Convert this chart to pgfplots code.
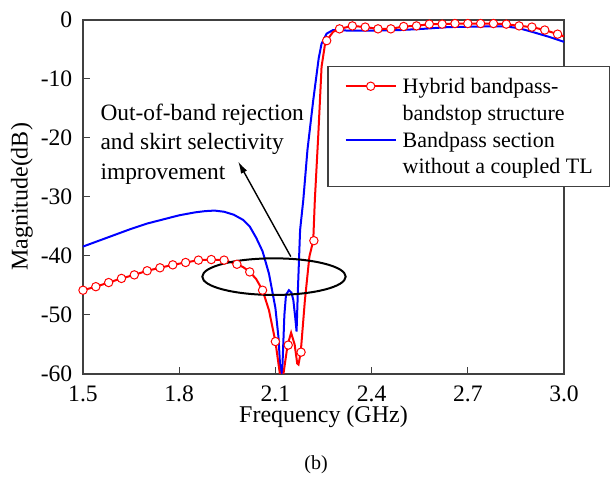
\documentclass[border=0pt]{standalone}
\usepackage{fontspec}
\setmainfont{Liberation Serif}
\usepackage{pgfplots}
\usepackage{pgfplotstable}
\pgfplotsset{compat=1.18}
\usetikzlibrary{arrows.meta,calc}

% hybrid bandpass-bandstop, solid line (dense near the dips)
\pgfplotstableread{
f     s
1.50  -45.8
1.54  -45.2
1.58  -44.5
1.62  -43.8
1.66  -43.2
1.70  -42.5
1.74  -42.0
1.78  -41.5
1.82  -41.1
1.86  -40.7
1.90  -40.6
1.94  -40.7
1.98  -41.4
2.00  -41.9
2.02  -42.7
2.04  -43.9
2.06  -45.8
2.08  -49.2
2.10  -54.5
2.114 -60.0
2.120 -64.0
2.125 -60.0
2.138 -55.1
2.149 -53.0
2.160 -55.0
2.168 -58.2
2.172 -58.4
2.179 -56.3
2.192 -47.5
2.206 -40.1
2.218 -37.4
2.223 -30.5
2.234 -19.2
2.244 -7.9
2.255 -4.0
2.26  -3.5
2.28  -2.0
2.30  -1.5
2.34  -1.0
2.38  -1.2
2.42  -1.5
2.46  -1.5
2.50  -1.1
2.54  -1.0
2.58  -0.7
2.62  -0.7
2.66  -0.6
2.70  -0.6
2.74  -0.6
2.78  -0.6
2.82  -0.7
2.86  -1.0
2.90  -1.2
2.94  -1.7
2.98  -2.4
3.00  -2.8
}\hybridline

% hybrid, marker positions
\pgfplotstableread{
f     s
1.50  -45.8
1.54  -45.2
1.58  -44.5
1.62  -43.8
1.66  -43.2
1.70  -42.5
1.74  -42.0
1.78  -41.5
1.82  -41.1
1.86  -40.7
1.90  -40.6
1.94  -40.7
1.98  -41.4
2.02  -42.7
2.06  -45.8
2.10  -54.5
2.14  -55.1
2.18  -56.3
2.22  -37.4
2.26  -3.5
2.30  -1.5
2.34  -1.0
2.38  -1.2
2.42  -1.5
2.46  -1.5
2.50  -1.1
2.54  -1.0
2.58  -0.7
2.62  -0.7
2.66  -0.6
2.70  -0.6
2.74  -0.6
2.78  -0.6
2.82  -0.7
2.86  -1.0
2.90  -1.2
2.94  -1.7
2.98  -2.4
}\hybridmarks

% bandpass section without coupled TL
\pgfplotstableread{
f     s
1.50  -38.4
1.55  -37.4
1.60  -36.4
1.65  -35.4
1.70  -34.5
1.75  -33.8
1.80  -33.1
1.85  -32.6
1.88  -32.4
1.91  -32.3
1.94  -32.5
1.97  -33.0
2.00  -33.9
2.02  -35.0
2.04  -36.9
2.06  -39.2
2.08  -43.0
2.10  -48.8
2.11  -54.0
2.116 -60.0
2.118 -63.0
2.121 -60.0
2.128 -50.0
2.133 -46.6
2.142 -45.8
2.150 -46.2
2.156 -47.5
2.162 -50.5
2.166 -52.8
2.170 -46.0
2.177 -35.6
2.187 -30.5
2.200 -22.0
2.218 -13.6
2.235 -6.5
2.244 -4.0
2.26  -2.3
2.28  -1.7
2.33  -1.8
2.40  -1.8
2.49  -1.7
2.56  -1.5
2.64  -1.2
2.75  -1.1
2.82  -1.1
2.86  -1.4
2.90  -2.0
2.95  -2.8
3.00  -3.7
}\bandpass

\begin{document}
\begin{tikzpicture}
\begin{axis}[
  scale only axis, width=240.5pt, height=177pt,
  xmin=1.5, xmax=3.0, ymin=-60, ymax=0,
  xtick={1.5,1.8,2.1,2.4,2.7,3.0},
  xticklabels={1.5,1.8,2.1,2.4,2.7,3.0},
  ytick={-60,-50,-40,-30,-20,-10,0},
  yticklabels={-60,-50,-40,-30,-20,-10,0},
  tick pos=left, tick align=inside, major tick length=3.5pt,
  axis line style={draw=black!75, line width=0.6pt},
  tick style={draw=black!75, line width=0.5pt},
  /pgf/number format/assume math mode=true,
  ticklabel style={font=\fontsize{11.8}{14}\selectfont},
  xticklabel style={anchor=base, inner sep=0pt, yshift=-13.85pt},
  yticklabel style={anchor=east, inner sep=0pt, xshift=-5.15pt},
  label style={font=\fontsize{12}{14}\selectfont},
  xlabel={Frequency (GHz)},
  ylabel={Magnitude(dB)},
  xlabel style={at={(axis description cs:0.5,-0.1384)}, anchor=base, inner sep=0pt},
  ylabel style={at={(axis description cs:-0.1033,0.5)}, anchor=south, inner sep=0pt},
  legend cell align=left,
  legend image code/.code={\draw[mark repeat=2,mark phase=2,#1] plot coordinates {(0pt,0pt) (12.5pt,0pt) (25pt,0pt)};},
  legend style={at={(axis description cs:0.5079,0.8701)}, anchor=north west,
    draw=black!75, line width=0.6pt, font=\fontsize{11}{13}\selectfont,
    inner xsep=8.4pt, inner ysep=4pt, row sep=1.8pt, column sep=3pt,
    nodes={inner sep=0pt, text height=9.35pt, text depth=2.3pt},
    cells={anchor=west}},
]
\addplot[blue, line width=1pt, forget plot] table[x=f, y=s] {\bandpass};
\addplot[red, line width=1pt, forget plot] table[x=f, y=s] {\hybridline};
\addplot[only marks, mark=*, mark size=2.1pt, mark options={fill=white, draw=red, line width=0.5pt}, forget plot] table[x=f, y=s] {\hybridmarks};

\addlegendimage{red, line width=1pt, mark=*, mark size=2.1pt, mark options={fill=white, draw=red, line width=0.5pt}}
\addlegendentry{Hybrid bandpass-}
\addlegendimage{empty legend}
\addlegendentry{bandstop structure}
\addlegendimage{blue, line width=1pt}
\addlegendentry{Bandpass section}
\addlegendimage{empty legend}
\addlegendentry{without a coupled TL}

\draw[black, line width=1pt] (axis cs:2.0956,-43.5) ellipse [x radius=35.85pt, y radius=9.15pt];
\draw[black, line width=0.7pt, -{Latex[length=6pt,width=3.4pt]}] (axis cs:2.148,-40.1) -- (axis cs:1.984,-24.0);
\node[anchor=base west, inner sep=0pt, font=\fontsize{11.7}{14}\selectfont] at (axis cs:1.5535,-17.07) {Out-of-band rejection};
\node[anchor=base west, inner sep=0pt, font=\fontsize{11.7}{14}\selectfont] at (axis cs:1.5535,-22.03) {and skirt selectivity};
\node[anchor=base west, inner sep=0pt, font=\fontsize{11.7}{14}\selectfont] at (axis cs:1.5535,-26.99) {improvement};
\end{axis}
\node[anchor=base, inner sep=0pt, font=\fontsize{10}{12}\selectfont] at ($(current axis.south west)+(116.5pt,-48pt)$) {(b)};
\pgfresetboundingbox
\path (current axis.south west) ++(-41.5pt,-51.5pt) rectangle ++(305.5pt,238.5pt);
\end{tikzpicture}
\end{document}
